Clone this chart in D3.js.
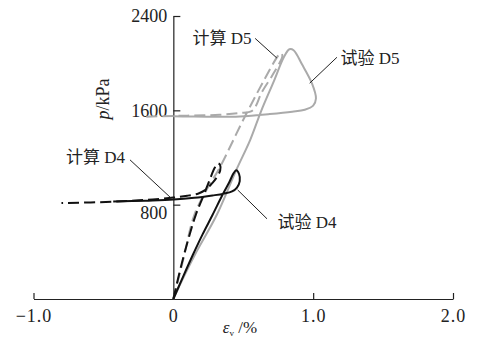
<!DOCTYPE html>
<html>
<head>
<meta charset="utf-8">
<script src="https://cdn.jsdelivr.net/npm/d3@7"></script>
<style>
  body { margin: 0; background: #fff; }
  svg text { font-family: "Liberation Serif", "DejaVu Serif", "Noto Sans CJK SC", serif; fill: #222; }
</style>
</head>
<body>
<svg id="chart" width="480" height="343"></svg>
<script>
// tick values and labels
const xTicks = [-1, 0, 1, 2];
const xTickLabels = ['\u22121.0', '0', '1.0', '2.0'];
const yTicks = [800, 1600, 2400];

// curves: [strain %, p kPa]
const testD4 = [[0,0],[0.07,190],[0.14,375],[0.21,550],[0.28,712],[0.35,880],[0.40,990],[0.43,1065],[0.45,1092],[0.47,1060],[0.475,1000],[0.455,945],[0.42,912],[0.36,893],[0.28,878],[0.15,858],[0,843],[-0.2,834],[-0.43,826]];
const calcD4 = [[0,0],[0.06,300],[0.12,560],[0.16,712],[0.21,860],[0.26,1010],[0.295,1110],[0.32,1150],[0.335,1135],[0.335,1090],[0.315,1040],[0.28,985],[0.23,925],[0.18,895],[0.1,876],[0,860],[-0.2,840],[-0.43,825],[-0.8,814]];
const testD5 = [[0,0],[0.08,200],[0.17,410],[0.31,712],[0.45,1094],[0.55,1350],[0.63,1600],[0.72,1850],[0.79,2050],[0.83,2118],[0.86,2110],[0.92,1990],[0.99,1832],[1.02,1700],[1.0,1640],[0.94,1605],[0.85,1588],[0.69,1568],[0.475,1548],[0.3,1545],[0.1,1548],[0.0,1550]];
const calcD5 = [[0,0],[0.07,330],[0.15,712],[0.24,930],[0.33,1111],[0.51,1543],[0.70,1967],[0.75,2065],[0.77,2085],[0.78,2062],[0.72,1920],[0.63,1747],[0.59,1637],[0.56,1594],[0.475,1577],[0.33,1562],[0.1,1555],[0,1553],[-0.22,1545]];

// annotation: text, text anchor point, leader from, leader to (data units)
const notes = [
  { text: '计算 D5', at: [0.56, 2165], anchor: 'end', from: [0.585, 2210], to: [0.74, 2044] },
  { text: '试验 D5', at: [1.195, 1990], anchor: 'start', from: [1.17, 2050], to: [0.975, 1830] },
  { text: '计算 D4', at: [-0.345, 1155], anchor: 'end', from: [-0.31, 1180], to: [-0.02, 860] },
  { text: '试验 D4', at: [0.745, 603], anchor: 'start', from: [0.67, 680], to: [0.46, 925] }
];

const svg = d3.select('#chart');
const x = d3.scaleLinear().domain([-1, 2]).range([33.5, 453]);
const y = d3.scaleLinear().domain([0, 2400]).range([299, 16]);

// x axis, ticks pointing up
const xAxis = svg.append('g')
  .attr('transform', `translate(0,${y(0)})`)
  .call(d3.axisBottom(x).tickValues(xTicks).tickSize(-6).tickSizeOuter(0).tickPadding(10)
    .tickFormat((d, i) => xTickLabels[i]));
xAxis.selectAll('text').style('font-size', '18px').attr('letter-spacing', '1px');

// y axis, ticks pointing right
const yAxis = svg.append('g')
  .attr('transform', `translate(${x(0)},0)`)
  .call(d3.axisLeft(y).tickValues(yTicks).tickSize(-7).tickSizeOuter(0).tickPadding(6)
    .tickFormat(d3.format('d')));
yAxis.selectAll('text').style('font-size', '18px')
  .attr('dy', d => d === 800 ? '0.75em' : '0.32em');
svg.selectAll('.domain, .tick line').attr('stroke', '#222').attr('stroke-width', 1.2);

// axis titles
const yt = svg.append('text')
  .attr('transform', 'translate(109,99) rotate(-90)')
  .attr('text-anchor', 'middle')
  .style('font-size', '18px');
yt.append('tspan').style('font-style', 'italic').text('p');
yt.append('tspan').text('/kPa');

const xt = svg.append('text')
  .attr('x', 240).attr('y', 333)
  .attr('text-anchor', 'middle')
  .style('font-size', '17px');
xt.append('tspan').style('font-style', 'italic').text('ε');
xt.append('tspan').attr('dy', 3).style('font-size', '9px').text('v');
xt.append('tspan').attr('dy', -3).text(' /%');

// curves
const line = d3.line().x(d => x(d[0])).y(d => y(d[1])).curve(d3.curveCatmullRom.alpha(0.5));
const series = [
  { data: testD5, color: '#aaaaaa', dash: null },
  { data: calcD5, color: '#aaaaaa', dash: '11,5' },
  { data: testD4, color: '#111', dash: null },
  { data: calcD4, color: '#111', dash: '11,5' }
];
svg.append('g').selectAll('path').data(series).join('path')
  .attr('d', d => line(d.data))
  .attr('fill', 'none')
  .attr('stroke', d => d.color)
  .attr('stroke-width', 2)
  .attr('stroke-dasharray', d => d.dash);

// annotations
const ann = svg.append('g');
ann.selectAll('line').data(notes).join('line')
  .attr('x1', d => x(d.from[0])).attr('y1', d => y(d.from[1]))
  .attr('x2', d => x(d.to[0])).attr('y2', d => y(d.to[1]))
  .attr('stroke', '#222').attr('stroke-width', 1);
ann.selectAll('text').data(notes).join('text')
  .attr('x', d => x(d.at[0])).attr('y', d => y(d.at[1]))
  .attr('text-anchor', d => d.anchor)
  .style('font-size', '17px')
  .text(d => d.text);
</script>
</body>
</html>
